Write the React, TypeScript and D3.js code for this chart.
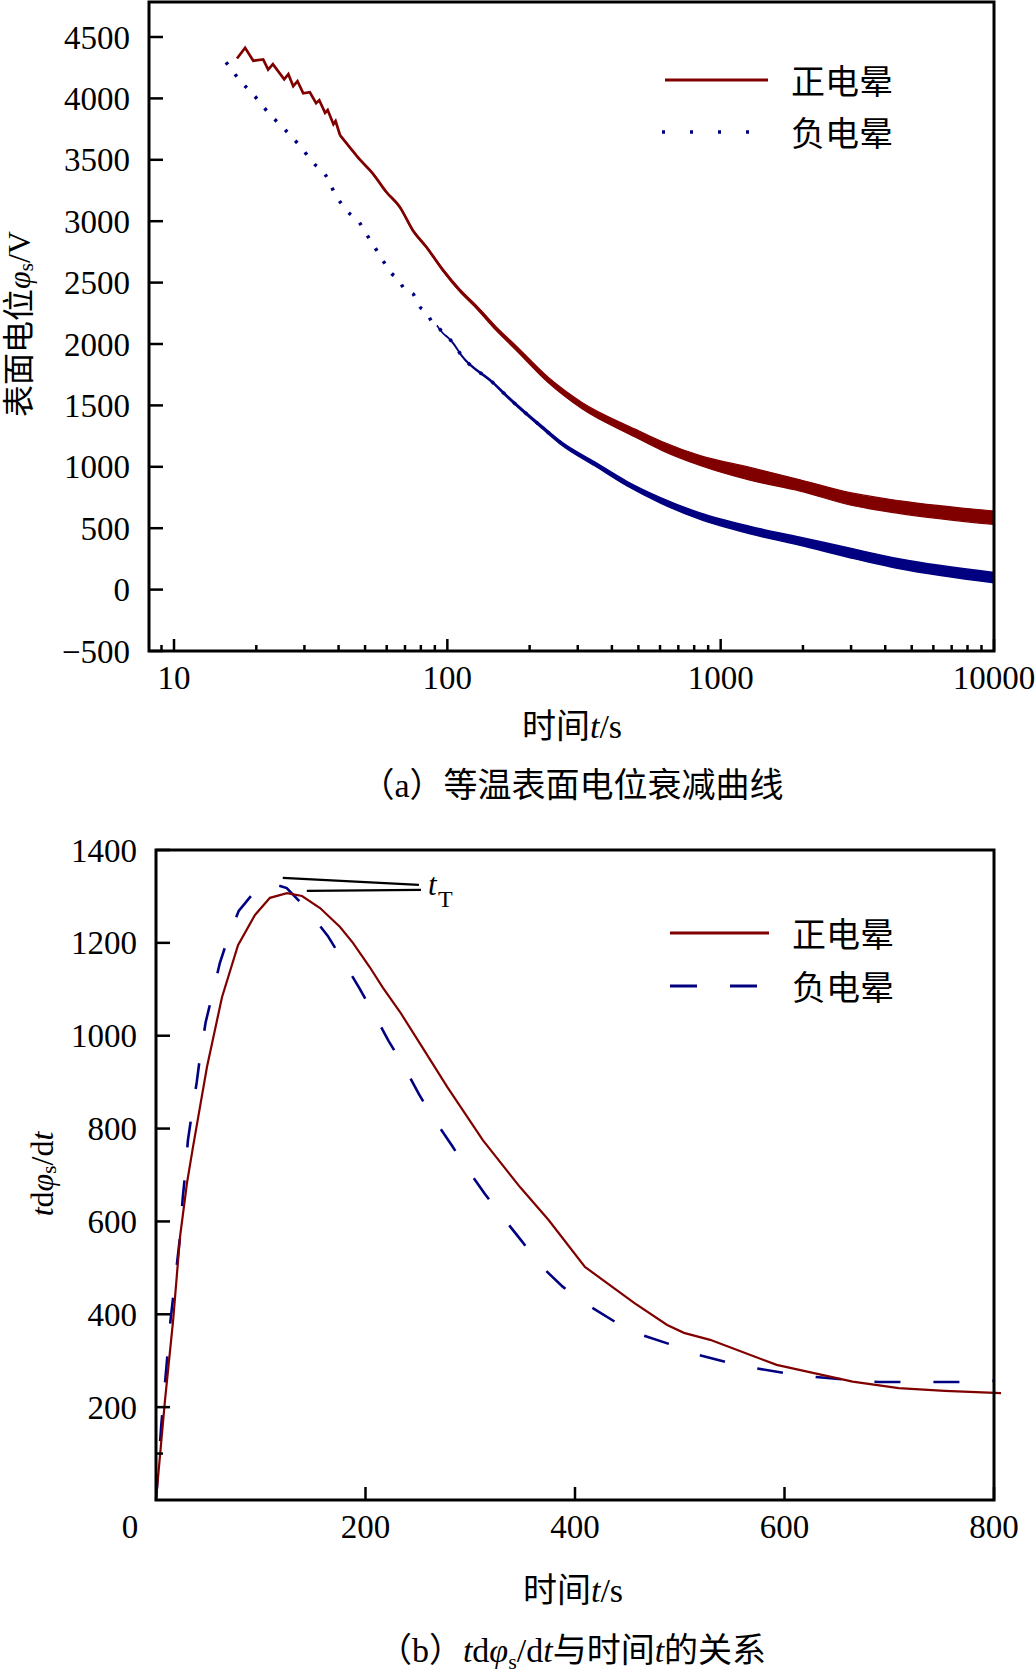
import React from 'react';
import * as d3 from 'd3';

// ================= (a) isothermal surface potential decay =================
// positive corona: early saw-tooth part (t in s, potential in V)
const posEarlyT = [17.0, 18.2, 19.5, 21.2, 22.1, 23.0, 25.3, 26.2, 27.3, 28.3, 29.7, 31.4, 33.1, 34.0, 35.7, 36.5, 38.3, 39.0, 40.5];
const posEarlyV = [4325, 4412, 4306, 4317, 4235, 4279, 4156, 4197, 4099, 4140, 4042, 4050, 3961, 3985, 3882, 3905, 3790, 3815, 3700];
// positive corona: dense noisy part (trend and noise half-width)
const posT = [40.5, 43.9, 47.8, 53.3, 59.8, 67, 74.8, 83.8, 96.5, 111, 128, 151, 177, 235, 310, 486, 609, 841, 1281, 1952, 2975, 4530, 10000];
const posV = [3700, 3604, 3503, 3390, 3238, 3116, 2925, 2790, 2600, 2437, 2300, 2124, 1975, 1703, 1500, 1275, 1170, 1051, 943, 848, 739, 671, 585];
const posAmp = [2, 3, 4, 4, 5, 6, 7, 8, 9, 11, 13, 15, 18, 22, 26, 32, 36, 40, 52, 46, 50, 52, 55];
// negative corona
const negT = [15.5, 17.4, 19.5, 22.3, 25.6, 29.1, 32.5, 35.7, 39.1, 43, 47.5, 50.9, 54, 59.3, 62.5, 65.7, 70.6, 74.7, 79.1, 83.6, 88.6, 91.6, 96.7, 100.7, 105.3, 112.6, 146, 169, 222, 263, 346, 455, 605, 841, 1281, 1952, 2975, 4530, 10000];
const negV = [4295, 4148, 4031, 3876, 3740, 3604, 3469, 3382, 3211, 3083, 2994, 2885, 2795, 2649, 2575, 2535, 2431, 2410, 2306, 2260, 2170, 2151, 2084, 2051, 2003, 1907, 1690, 1554, 1323, 1187, 1024, 862, 725, 598, 484, 394, 298, 209, 98];
const negAmp = [0, 0, 0, 0, 0, 0, 0, 0, 0, 0, 0, 0, 0, 0, 0, 0, 0, 0, 0, 0, 0, 0, 1, 2, 3, 4, 6, 8, 10, 12, 15, 18, 22, 26, 30, 33, 38, 40, 42];

const aMajorX = [10, 100, 1000, 10000];
const aMajorXLabels = ['10', '100', '1000', '10000'];
const aMinorX = [9, 20, 30, 40, 50, 60, 70, 80, 90, 200, 300, 400, 500, 600, 700, 800, 900, 2000, 3000, 4000, 5000, 6000, 7000, 8000, 9000];
const aYTicks = [-500, 0, 500, 1000, 1500, 2000, 2500, 3000, 3500, 4000, 4500];
const aYLabels = ['−500', '0', '500', '1000', '1500', '2000', '2500', '3000', '3500', '4000', '4500'];

// ================= (b) t dφ/dt versus t =================
const posBT = [0, 8.6, 16.4, 22.9, 29.6, 35.3, 48.7, 63, 78.3, 94.5, 108.8, 125, 139.4, 156.6, 175.7, 188, 204, 216.7, 233, 254, 278, 312, 347.5, 374.8, 409.5, 456.8, 488, 504, 529, 592.5, 665, 709, 753, 806.7];
const posBV = [0, 215, 388, 566, 683, 760, 933, 1083, 1195, 1260, 1297, 1307, 1301, 1275, 1234, 1200, 1148, 1103, 1051, 976, 890, 775, 674, 603, 502, 424, 377, 360, 345, 291, 255, 241, 235, 230];
const negBT = [0, 5, 13.9, 22.9, 25.5, 27.7, 30.5, 34, 38.9, 42, 47.4, 53.2, 61, 68.7, 79, 95.5, 110, 124.8, 143, 164, 177, 194, 207, 222, 236, 251, 264, 282, 296, 314, 330, 349, 368.5, 388.5, 409.5, 438, 458, 490, 512, 546, 572, 606, 630, 665, 690, 725, 750, 785, 801];
const negBV = [0, 160, 388, 566, 650, 700, 775, 829, 900, 954, 1029, 1083, 1157, 1210, 1269, 1314, 1328, 1318, 1275, 1215, 1167, 1103, 1051, 989, 937, 874, 825, 765, 717, 659, 612, 558, 502, 459, 424, 384, 360, 336, 316, 296, 284, 271, 265, 258, 254, 254, 254, 254, 257];

const bXTicks = [200, 400, 600, 800];
const bXLabels = ['200', '400', '600', '800'];
const bYTicks = [200, 400, 600, 800, 1000, 1200, 1400];
const bYLabels = ['200', '400', '600', '800', '1000', '1200', '1400'];
const bYMinor = [100];

const legendNames = ['正电晕', '负电晕'];

const FONT = "'Liberation Serif','Times New Roman','Noto Sans CJK SC',serif";
const RED = '#800000';
const BLUE = '#000080';
const NUM = 33;
const CJK = 34;

type P = { t: number; v: number; a: number };

export default function App() {
  // ---------- scales (a) ----------
  const ax = d3.scaleLog().domain([8.1, 10000]).range([149, 994]);
  const ay = d3.scaleLinear().domain([-500, 4500]).range([651, 37]);
  const aTop = 2;
  const aBottom = ay(-500);

  const lineA = d3.line<[number, number]>().x(d => ax(d[0])).y(d => ay(d[1]));
  const smoothA = d3.line<[number, number]>().x(d => ax(d[0])).y(d => ay(d[1])).curve(d3.curveMonotoneX);
  const bandA = d3.area<P>().x(d => ax(d.t)).y0(d => ay(d.v - d.a)).y1(d => ay(d.v + d.a)).curve(d3.curveMonotoneX);

  const posEarly: [number, number][] = posEarlyT.map((t, i) => [t, posEarlyV[i]]);
  const posPts: P[] = posT.map((t, i) => ({ t, v: posV[i], a: posAmp[i] }));
  const negPts: P[] = negT.map((t, i) => ({ t, v: negV[i], a: negAmp[i] }));
  const negBand = negPts.filter((_, i) => i >= 21);

  // ---------- scales (b) ----------
  const bx = d3.scaleLinear().domain([0, 800]).range([156, 994]);
  const by = d3.scaleLinear().domain([0, 1400]).range([1500, 850]);
  const lineB = d3.line<[number, number]>().x(d => bx(d[0])).y(d => by(d[1]));
  const posB: [number, number][] = posBT.map((t, i) => [t, posBV[i]]);
  const negB: [number, number][] = negBT.map((t, i) => [t, negBV[i]]);

  const tickW = 2.5;

  return (
    <svg width={1036} height={1673} viewBox="0 0 1036 1673"
      style={{ position: 'absolute', left: 0, top: 0, display: 'block', background: '#fff' }}
      fontFamily={FONT}>
      <rect x={0} y={0} width={1036} height={1673} fill="#fff" />

      {/* ================= chart (a) ================= */}
      <g>
        {/* data */}
        <path d={bandA(posPts) || ''} fill={RED} stroke={RED} strokeWidth={1.2} />
        <path d={smoothA(posPts.map(p => [p.t, p.v] as [number, number])) || ''} fill="none" stroke={RED} strokeWidth={2.7} />
        <path d={lineA(posEarly) || ''} fill="none" stroke={RED} strokeWidth={2.7} strokeLinejoin="miter" />

        <path d={smoothA(negPts.map(p => [p.t, p.v] as [number, number])) || ''} fill="none" stroke={BLUE} strokeWidth={3.5} strokeDasharray="3 12" />
        <path d={bandA(negBand) || ''} fill={BLUE} stroke={BLUE} strokeWidth={1.5} />

        {/* frame */}
        <rect x={ax.range()[0]} y={aTop} width={ax.range()[1] - ax.range()[0]} height={aBottom - aTop} fill="none" stroke="#000" strokeWidth={3} />

        {/* y ticks */}
        {aYTicks.map((v, i) => (
          <g key={'ay' + v}>
            <line x1={ax.range()[0]} x2={ax.range()[0] + 14} y1={ay(v)} y2={ay(v)} stroke="#000" strokeWidth={tickW} />
            <text x={130} y={ay(v)} dy="0.35em" textAnchor="end" fontSize={NUM}>{aYLabels[i]}</text>
          </g>
        ))}
        {/* x ticks */}
        {aMajorX.map((t, i) => (
          <g key={'axM' + t}>
            <line x1={ax(t)} x2={ax(t)} y1={aBottom} y2={aBottom - 12} stroke="#000" strokeWidth={tickW} />
            <text x={ax(t)} y={677} dy="0.35em" textAnchor="middle" fontSize={NUM}>{aMajorXLabels[i]}</text>
          </g>
        ))}
        {aMinorX.map(t => (
          <line key={'axm' + t} x1={ax(t)} x2={ax(t)} y1={aBottom} y2={aBottom - 6} stroke="#000" strokeWidth={tickW} />
        ))}

        {/* axis titles */}
        <text x={572} y={726} dy="0.35em" textAnchor="middle" fontSize={CJK}>
          时间<tspan fontStyle="italic">t</tspan>/s
        </text>
        <text transform="translate(19,324) rotate(-90)" textAnchor="middle" dominantBaseline="central" fontSize={32}>
          表面电位<tspan fontStyle="italic">φ</tspan><tspan dy={7} fontSize={21}>s</tspan><tspan dy={-7}>/V</tspan>
        </text>
        <text x={572} y={785} dy="0.35em" textAnchor="middle" fontSize={CJK}>（a）等温表面电位衰减曲线</text>

        {/* legend */}
        <line x1={665} x2={768} y1={80} y2={80} stroke={RED} strokeWidth={3} />
        <text x={791} y={82} dy="0.35em" fontSize={CJK}>{legendNames[0]}</text>
        <line x1={662} x2={760} y1={132} y2={132} stroke={BLUE} strokeWidth={3.5} strokeDasharray="3 25" />
        <text x={791} y={134} dy="0.35em" fontSize={CJK}>{legendNames[1]}</text>
      </g>

      {/* ================= chart (b) ================= */}
      <g>
        <path d={lineB(negB) || ''} fill="none" stroke={BLUE} strokeWidth={2.6} strokeDasharray="26 33" />
        <path d={lineB(posB) || ''} fill="none" stroke={RED} strokeWidth={2.2} />

        <rect x={bx(0)} y={by(1400)} width={bx(800) - bx(0)} height={by(0) - by(1400)} fill="none" stroke="#000" strokeWidth={3} />

        {bYTicks.map((v, i) => (
          <g key={'by' + v}>
            <line x1={bx(0)} x2={bx(0) + 14} y1={by(v)} y2={by(v)} stroke="#000" strokeWidth={tickW} />
            <text x={137} y={by(v)} dy="0.35em" textAnchor="end" fontSize={NUM}>{bYLabels[i]}</text>
          </g>
        ))}
        {bYMinor.map(v => (
          <line key={'bym' + v} x1={bx(0)} x2={bx(0) + 7} y1={by(v)} y2={by(v)} stroke="#000" strokeWidth={tickW} />
        ))}
        {bXTicks.map((t, i) => (
          <g key={'bx' + t}>
            <line x1={bx(t)} x2={bx(t)} y1={by(0)} y2={by(0) - 13} stroke="#000" strokeWidth={tickW} />
            <text x={bx(t)} y={1526} dy="0.35em" textAnchor="middle" fontSize={NUM}>{bXLabels[i]}</text>
          </g>
        ))}
        <text x={bx(0) - 26} y={1526} dy="0.35em" textAnchor="middle" fontSize={NUM}>0</text>

        {/* t_T annotation */}
        <line x1={bx(121)} y1={by(1340)} x2={bx(251)} y2={by(1325)} stroke="#000" strokeWidth={2.2} />
        <line x1={bx(144)} y1={by(1312)} x2={bx(253)} y2={by(1314)} stroke="#000" strokeWidth={2.2} />
        <text x={428} y={895} fontSize={31} fontStyle="italic">t</text>
        <text x={438} y={907} fontSize={24}>T</text>

        {/* titles */}
        <text x={573} y={1590} dy="0.35em" textAnchor="middle" fontSize={CJK}>
          时间<tspan fontStyle="italic">t</tspan>/s
        </text>
        <text transform="translate(42,1174) rotate(-90)" textAnchor="middle" dominantBaseline="central" fontSize={32}>
          <tspan fontStyle="italic">t</tspan>d<tspan fontStyle="italic">φ</tspan><tspan dy={7} fontSize={21}>s</tspan><tspan dy={-7}>/d</tspan><tspan fontStyle="italic">t</tspan>
        </text>
        <text x={572} y={1650} dy="0.35em" textAnchor="middle" fontSize={CJK}>
          （b）<tspan fontStyle="italic">t</tspan>d<tspan fontStyle="italic">φ</tspan><tspan dy={7} fontSize={22}>s</tspan><tspan dy={-7}>/d</tspan><tspan fontStyle="italic">t</tspan>与时间<tspan fontStyle="italic">t</tspan>的关系
        </text>

        {/* legend */}
        <line x1={670} x2={769} y1={933} y2={933} stroke={RED} strokeWidth={3} />
        <text x={792} y={935} dy="0.35em" fontSize={CJK}>{legendNames[0]}</text>
        <line x1={670} x2={769} y1={986} y2={986} stroke={BLUE} strokeWidth={3} strokeDasharray="27 33" />
        <text x={792} y={988} dy="0.35em" fontSize={CJK}>{legendNames[1]}</text>
      </g>
    </svg>
  );
}
